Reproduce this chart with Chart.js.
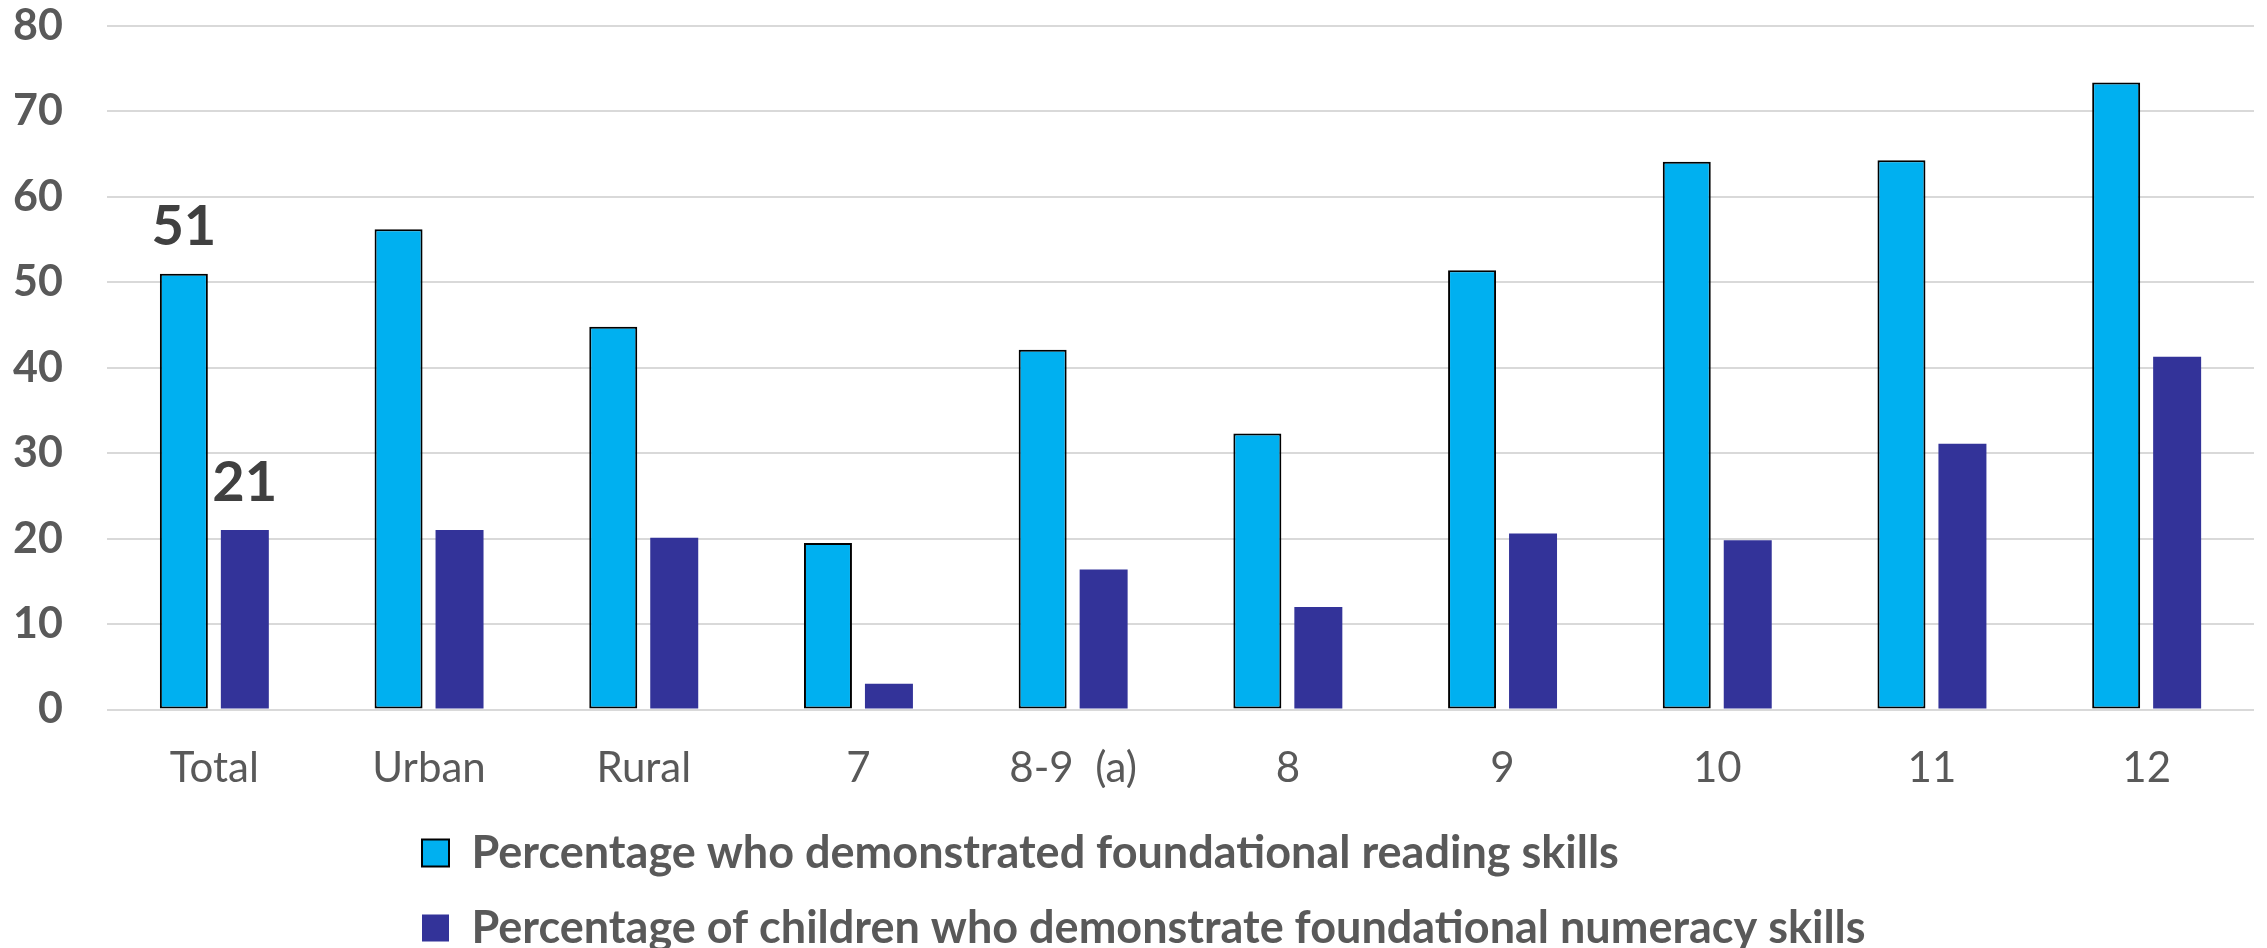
<!DOCTYPE html>
<html>
<head>
<meta charset="utf-8">
<script src="https://cdn.jsdelivr.net/npm/chart.js@4.4.1/dist/chart.umd.min.js"></script>
<style>
  html, body { margin: 0; padding: 0; background: #ffffff; }
  #wrap { width: 2267px; height: 948px; position: relative; }
</style>
</head>
<body>
<div id="wrap"><canvas id="chart" width="2267" height="948"></canvas></div>
<script>
// Categories along the x axis
const categories = ['Total', 'Urban', 'Rural', '7', '8-9  (a)', '8', '9', '10', '11', '12'];

// Series names
const readingLabel = 'Percentage who demonstrated foundational reading skills';
const numeracyLabel = 'Percentage of children who demonstrate foundational numeracy skills';

// Series values (percent)
const readingValues = [51, 56.2, 44.8, 19.5, 42.1, 32.3, 51.4, 64.1, 64.3, 73.4];
const numeracyValues = [21, 21.0, 20.1, 3.0, 16.4, 12.0, 20.6, 19.8, 31.1, 41.3];

// Y axis ticks
const yTicks = [0, 10, 20, 30, 40, 50, 60, 70, 80];

// Category whose bars carry value labels
const labelledCategory = 'Total';

const FONT = 'Lato, "Open Sans", sans-serif';
const TEXT_GREY = '#595959';

// Writes the value above each bar of the labelled category
const valueLabels = {
  id: 'valueLabels',
  afterDatasetsDraw(chart) {
    const idx = chart.data.labels.indexOf(labelledCategory);
    if (idx < 0) return;
    const ctx = chart.ctx;
    ctx.save();
    ctx.font = 'bold 56px ' + FONT;
    ctx.fillStyle = '#404040';
    ctx.textAlign = 'center';
    ctx.textBaseline = 'alphabetic';
    chart.data.datasets.forEach((ds, i) => {
      const bar = chart.getDatasetMeta(i).data[idx];
      ctx.fillText(String(Math.round(ds.data[idx])), bar.x, bar.y - 29);
    });
    ctx.restore();
  }
};

// Places the legend rows under the plot, left-aligned
const legendPlacement = {
  id: 'legendPlacement',
  afterLayout(chart) {
    const lg = chart.legend;
    if (!lg) return;
    const pad = lg.options.labels.padding;
    const dx = 422 - (lg.left + pad);
    lg.left += dx; lg.right += dx;
    lg.top += 12.5; lg.bottom += 12.5;
  }
};

new Chart(document.getElementById('chart'), {
  type: 'bar',
  data: {
    labels: categories,
    datasets: [
      {
        label: readingLabel,
        data: readingValues,
        backgroundColor: '#00B0F0',
        borderColor: '#000000',
        borderWidth: 2,
        borderSkipped: false
      },
      {
        label: numeracyLabel,
        data: numeracyValues,
        backgroundColor: '#333399',
        borderWidth: 0
      }
    ]
  },
  options: {
    responsive: false,
    animation: false,
    devicePixelRatio: 1,
    categoryPercentage: 0.568,
    barPercentage: 0.787,
    layout: { padding: { top: 26, right: 13, bottom: 0, left: 0 } },
    plugins: {
      tooltip: { enabled: false },
      legend: {
        position: 'bottom',
        align: 'start',
        labels: {
          boxWidth: 27,
          boxHeight: 27,
          padding: 30,
          color: TEXT_GREY,
          font: { family: FONT, size: 45, weight: 'bold' }
        }
      }
    },
    scales: {
      x: {
        grid: { display: false, drawTicks: false },
        border: { display: false },
        ticks: {
          color: TEXT_GREY,
          padding: 34,
          maxRotation: 0,
          autoSkip: false,
          font: { family: FONT, size: 42 }
        },
        afterFit(scale) { scale.height = 78.5; }
      },
      y: {
        min: 0,
        max: 80,
        afterBuildTicks(scale) { scale.ticks = yTicks.map(v => ({ value: v })); },
        grid: {
          color: '#D9D9D9',
          lineWidth: 2,
          drawTicks: true,
          tickLength: 44,
          tickColor: 'rgba(0,0,0,0)'
        },
        border: { display: false },
        ticks: {
          color: TEXT_GREY,
          padding: 0,
          font: { family: FONT, size: 43, weight: 'bold' }
        },
        afterFit(scale) { scale.width = 107; }
      }
    }
  },
  plugins: [valueLabels, legendPlacement]
});
</script>
</body>
</html>
